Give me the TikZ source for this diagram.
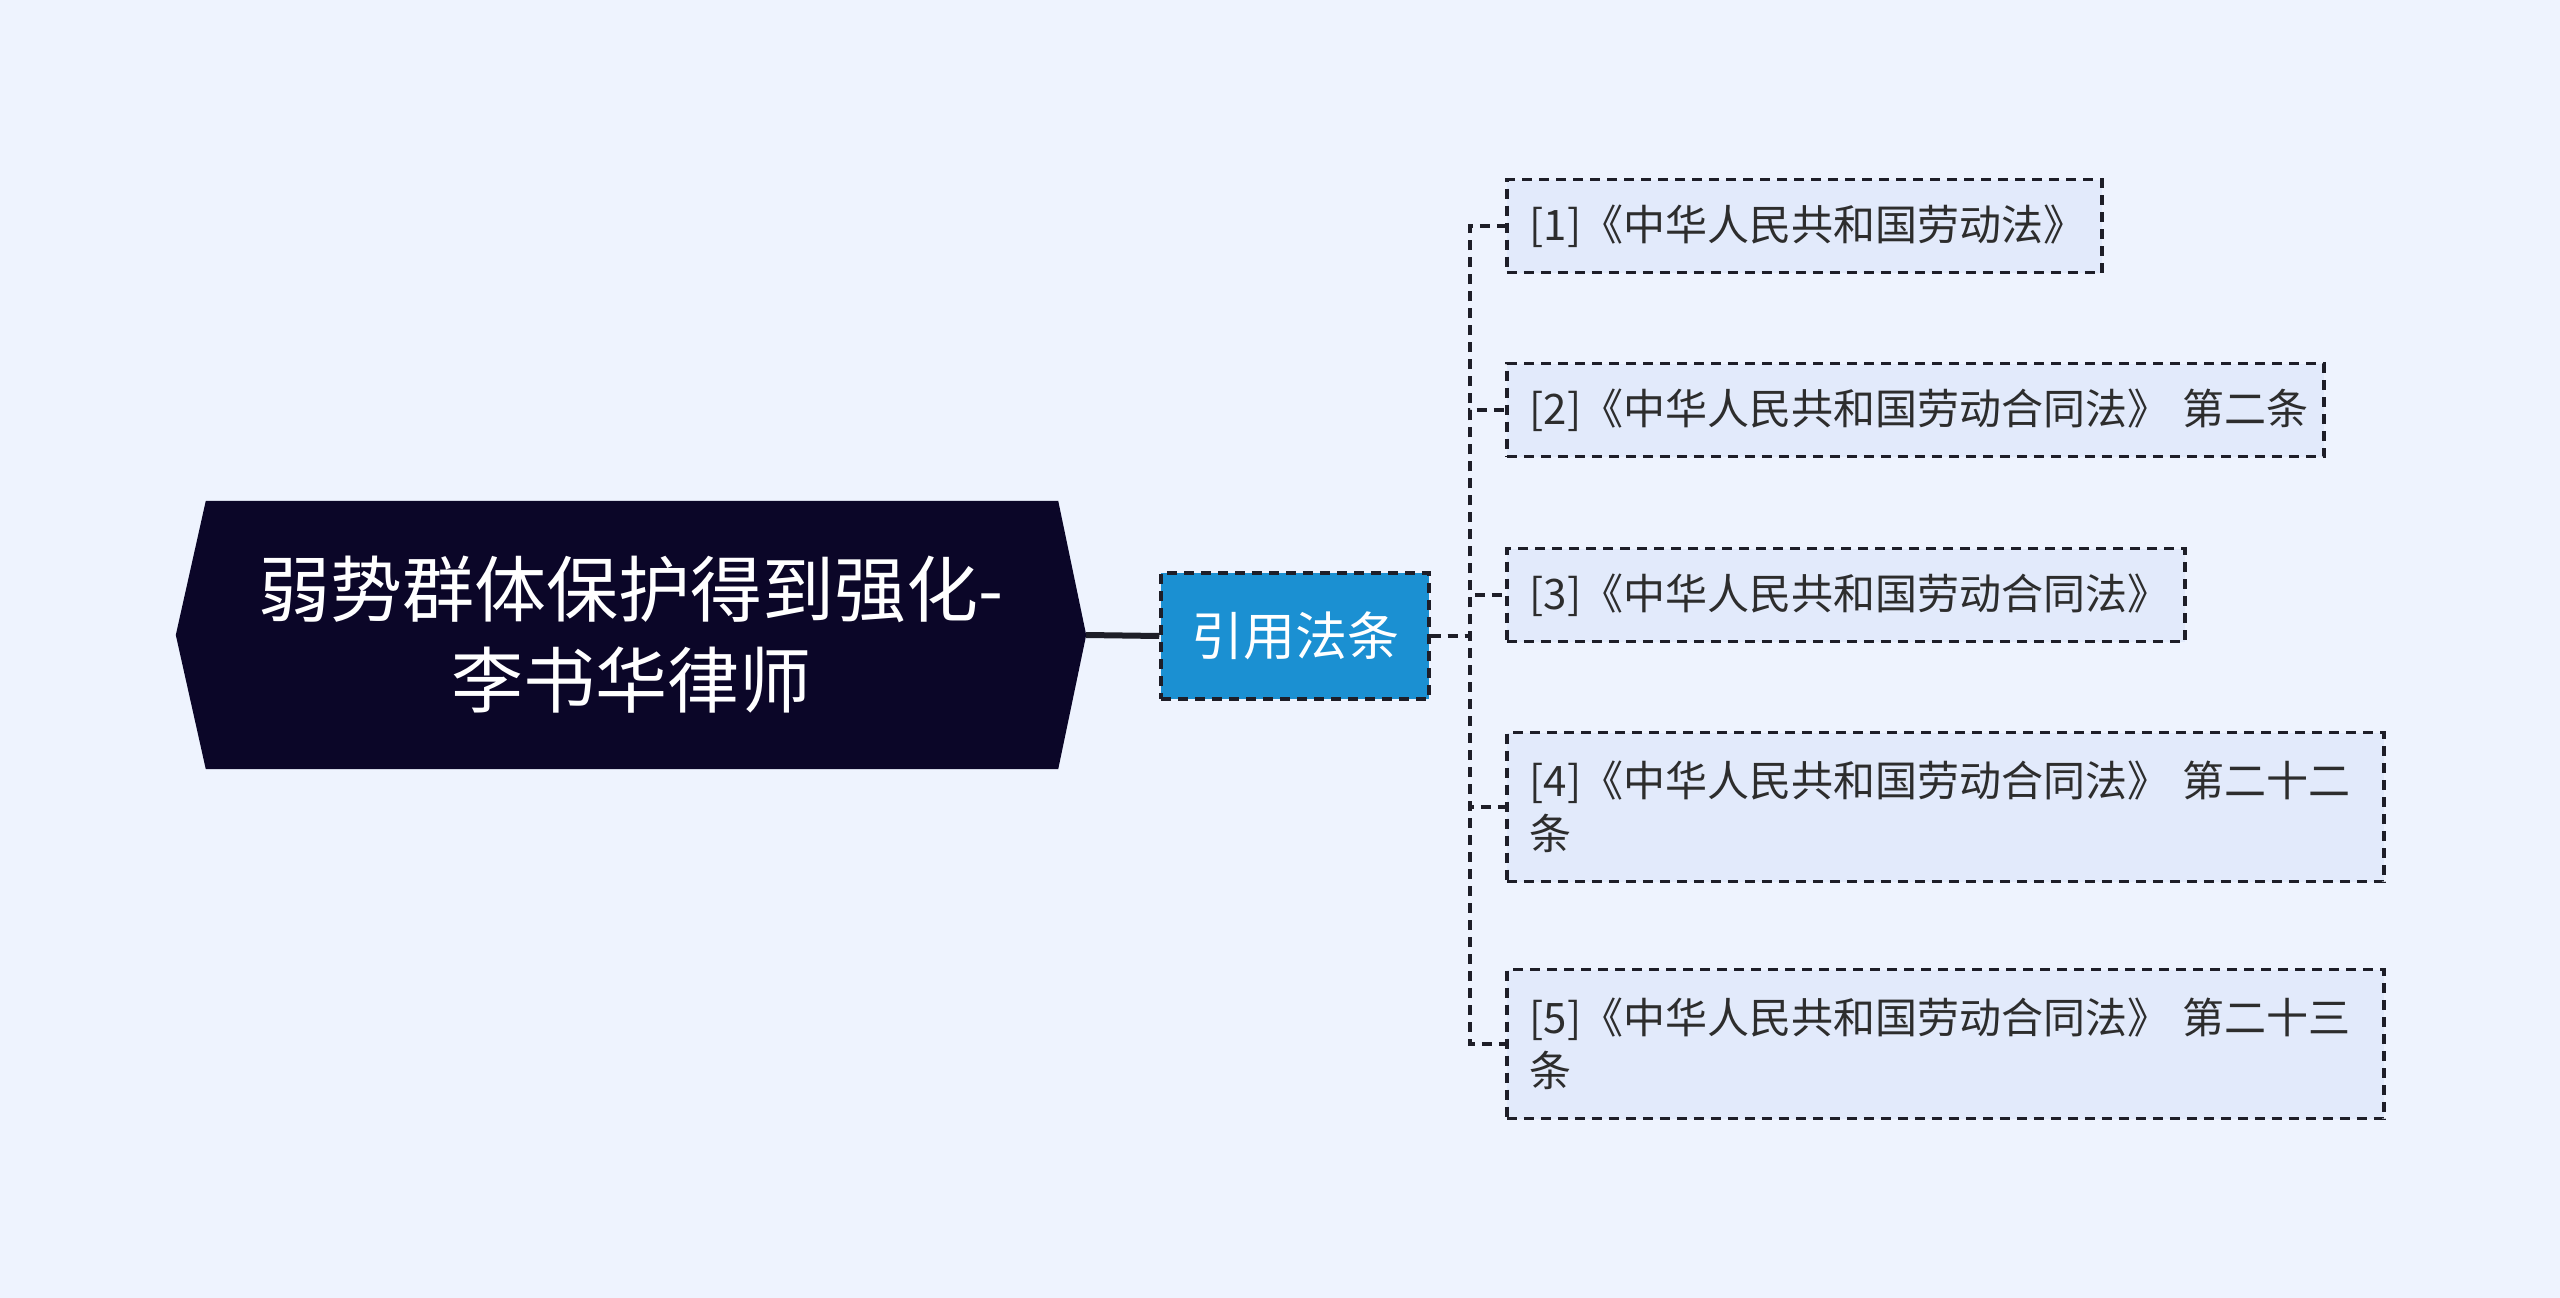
\documentclass[tikz,border=0pt]{standalone}
\usepackage{fontspec}
\setmainfont{Noto Sans CJK SC}
\usetikzlibrary{backgrounds}
\definecolor{bgc}{RGB}{238,243,254}
\definecolor{rootc}{RGB}{11,6,40}
\definecolor{bluec}{RGB}{27,144,210}
\definecolor{leaff}{RGB}{226,234,251}
\definecolor{linec}{RGB}{30,30,40}
\definecolor{textc}{RGB}{45,45,45}
\tikzset{
  rootbox/.style={minimum width=910pt, minimum height=268pt, inner sep=0pt, align=center, text=white, font=\fontsize{72}{91}\selectfont},
  midbox/.style={draw=linec, dash pattern=on 10pt off 7pt, line width=3.5pt, fill=bluec, minimum width=268pt, minimum height=126pt, inner sep=0pt, text=white, font=\fontsize{52}{60}\selectfont},
  leafbox/.style={draw=linec, dash pattern=on 10pt off 7pt, line width=3.5pt, fill=leaff, anchor=west, inner xsep=23pt, inner ysep=0pt, align=left, text=textc, font=\fontsize{42}{53}\selectfont, minimum height=93pt},
  conn/.style={draw=linec, line width=3.5pt, dash pattern=on 10pt off 7pt},
  mainconn/.style={draw=linec, line width=6pt}
}
\begin{document}
\begin{tikzpicture}[x=1pt,y=-1pt]
\useasboundingbox (0,0) rectangle (2560,1298);
\node[rootbox] (root) at (631,635) {弱势群体保护得到强化-\\李书华律师};
\node[midbox] (yy) at (1295,636) {引用法条};
\node[leafbox, text width=549pt] (c1) at (1505,226) {\mbox{[1]《中华人民共和国劳动法》}};
\node[leafbox, text width=771pt] (c2) at (1505,410) {\mbox{[2]《中华人民共和国劳动合同法》\hspace{0.3em}第二条}};
\node[leafbox, text width=632pt] (c3) at (1505,595) {\mbox{[3]《中华人民共和国劳动合同法》}};
\node[leafbox, text width=831pt, minimum height=149pt] (c4) at (1505,807) {\mbox{[4]《中华人民共和国劳动合同法》\hspace{0.3em}第二十二}\\条};
\node[leafbox, text width=831pt, minimum height=149pt] (c5) at (1505,1044) {\mbox{[5]《中华人民共和国劳动合同法》\hspace{0.3em}第二十三}\\条};
\begin{scope}[on background layer]
\fill[bgc] (0,0) rectangle (2560,1298);
\fill[rootc] (root.west) -- ([xshift=30pt]root.north west) -- ([xshift=-28pt]root.north east) -- (root.east) -- ([xshift=-28pt]root.south east) -- ([xshift=30pt]root.south west) -- cycle;
\draw[mainconn] (root.east) -- (yy.west);
\foreach \c in {c1,c2,c3,c4,c5}
  \draw[conn] (yy.east) -- ++(39,0) |- (\c.west);
\end{scope}
\end{tikzpicture}
\end{document}
